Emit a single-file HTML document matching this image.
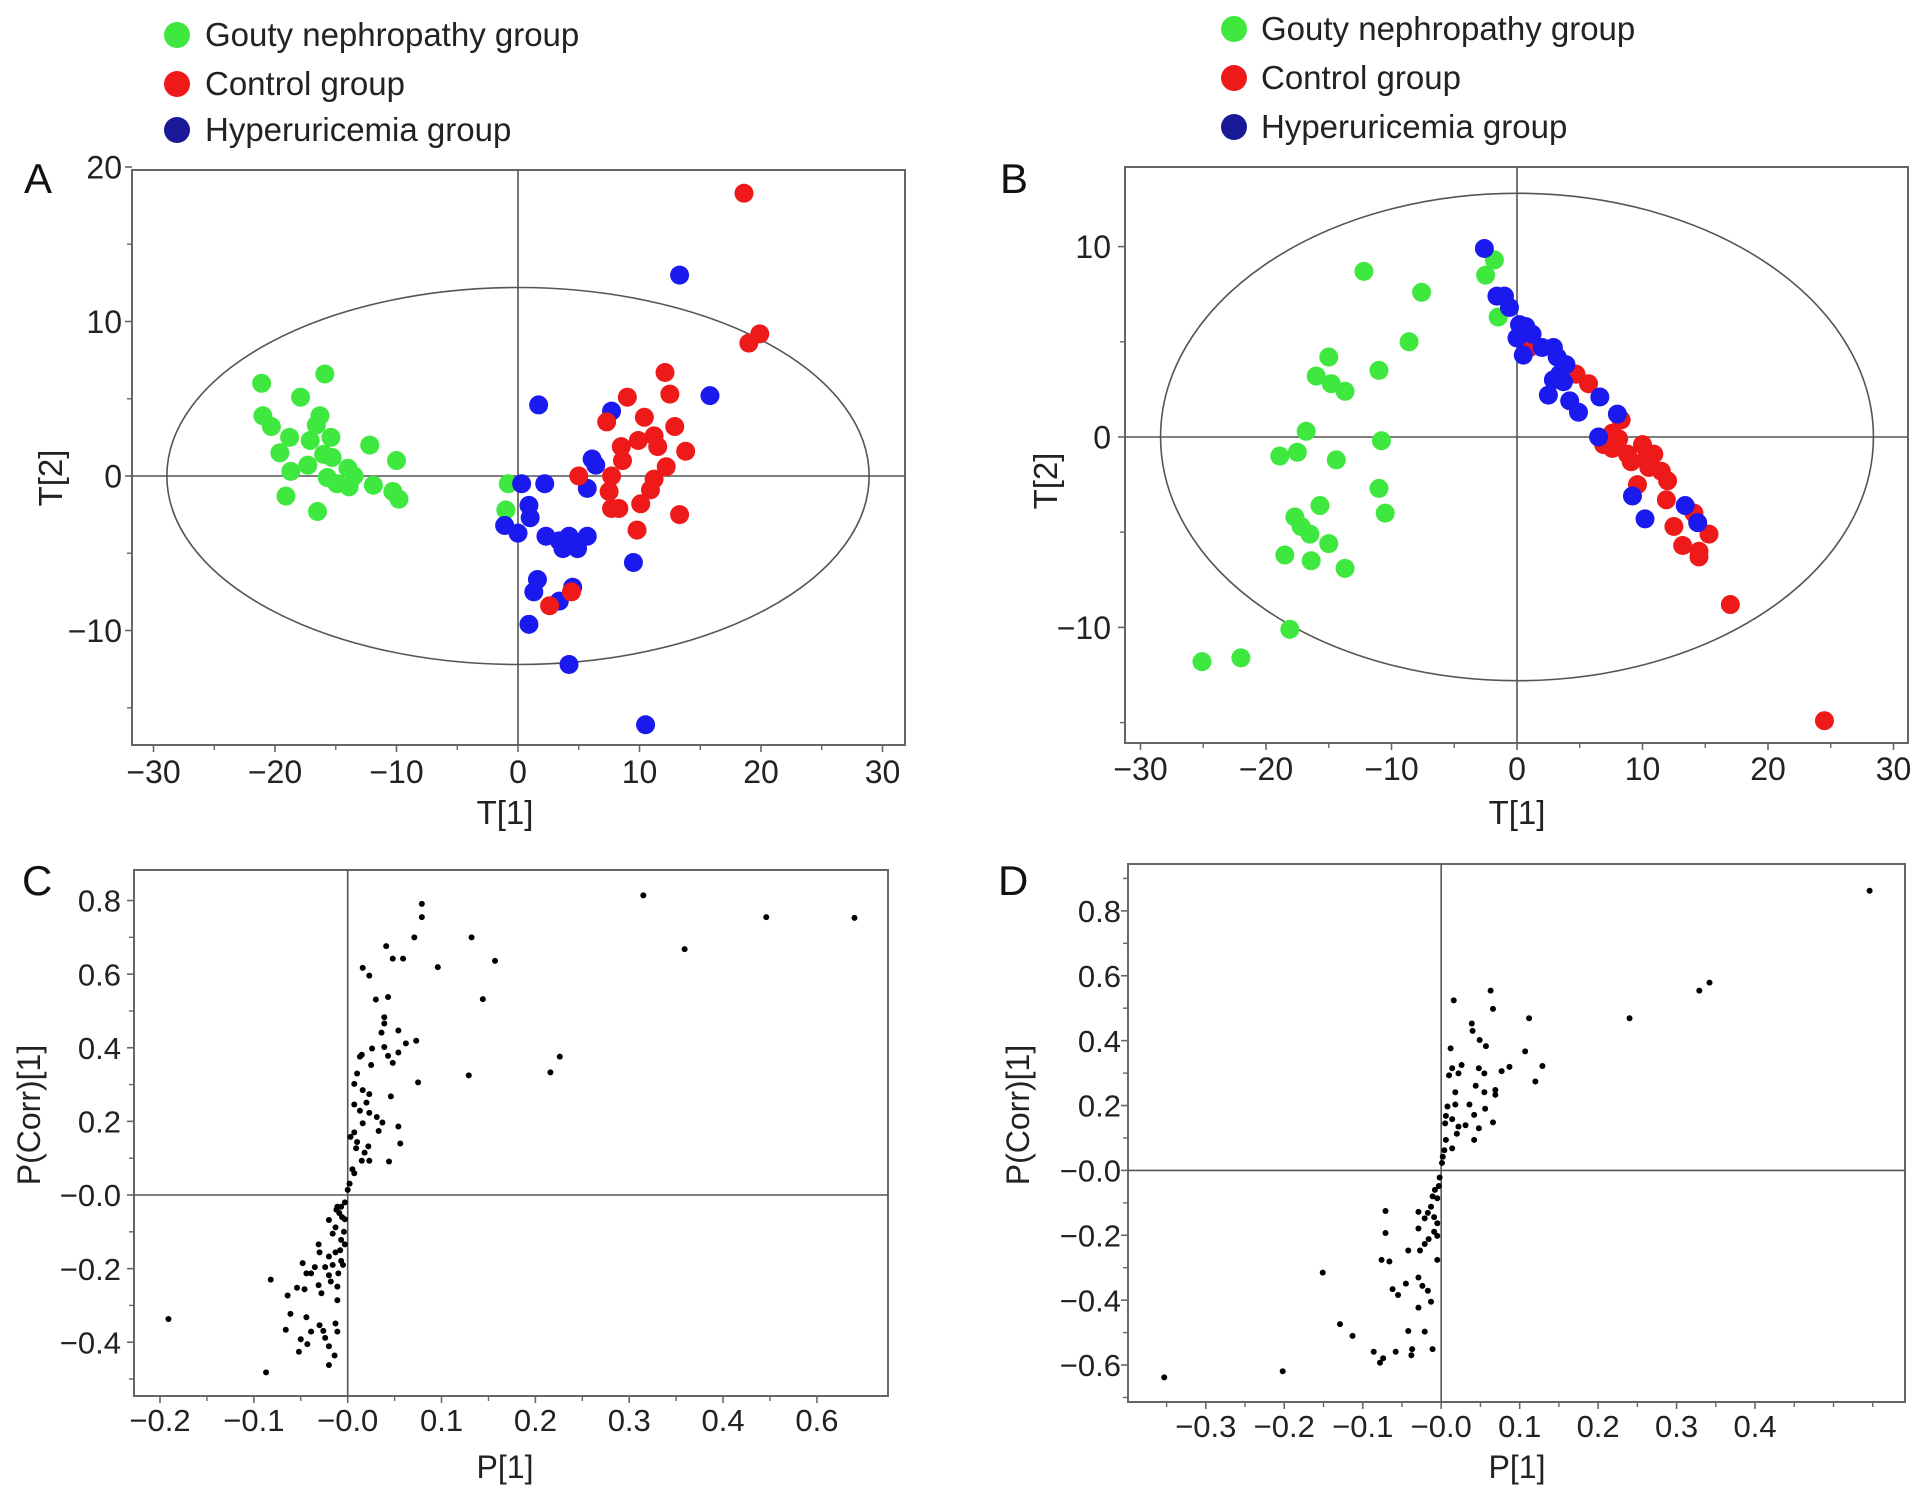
<!DOCTYPE html>
<html><head><meta charset="utf-8"><title>Multivariate score and loading plots</title>
<style>
html,body{margin:0;padding:0;background:#fff;}
svg{display:block;font-family:"Liberation Sans",Arial,sans-serif;}
</style></head>
<body>
<svg id="fig" width="1913" height="1491" viewBox="0 0 1913 1491" xmlns="http://www.w3.org/2000/svg">
<g id="legendA">
  <g><circle cx="177" cy="35" r="13" fill="#3ee83e"/><text x="205" y="46" font-size="33" fill="#222">Gouty nephropathy group</text></g>
  <g><circle cx="177" cy="84" r="13" fill="#ee1a1a"/><text x="205" y="95" font-size="33" fill="#222">Control group</text></g>
  <g><circle cx="177" cy="130" r="13" fill="#1a1a99"/><text x="205" y="141" font-size="33" fill="#222">Hyperuricemia group</text></g>
</g>
<g id="legendB">
  <g><circle cx="1234" cy="29" r="13" fill="#3ee83e"/><text x="1261" y="40" font-size="33" fill="#222">Gouty nephropathy group</text></g>
  <g><circle cx="1234" cy="78" r="13" fill="#ee1a1a"/><text x="1261" y="89" font-size="33" fill="#222">Control group</text></g>
  <g><circle cx="1234" cy="127" r="13" fill="#1a1a99"/><text x="1261" y="138" font-size="33" fill="#222">Hyperuricemia group</text></g>
</g>
<text x="24" y="193" font-size="42" fill="#111">A</text>
<text x="1000" y="193" font-size="42" fill="#111">B</text>
<text x="22" y="895" font-size="42" fill="#111">C</text>
<text x="998" y="895" font-size="42" fill="#111">D</text>
</svg>
<script>
// ---- Panel A data (T[1], T[2]) ----
const aGreenX = [-21.1,-21,-20.3,-17.9,-15.9,-18.8,-19.6,-18.7,-17.1,-16.6,-16.3,-17.3,-16,-15.4,-15.3,-15.7,-14.9,-14,-13.9,-13.5,-12.2,-11.9,-10,-10.3,-9.8,-19.1,-16.5,-0.8,-1];
const aGreenY = [6.0,3.9,3.2,5.1,6.6,2.5,1.5,0.3,2.3,3.3,3.9,0.7,1.4,2.5,1.2,-0.1,-0.5,0.5,-0.7,0,2,-0.6,1,-1,-1.5,-1.3,-2.3,-0.5,-2.2];
const aBlueX = [0.3,-1.1,0,0.9,1,1.7,2.2,2.3,3.4,4.2,3.7,4.9,5.7,5.7,6.1,6.4,7.7,9.5,1.6,1.3,4.5,3.4,0.9,4.2,13.3,15.8,10.5];
const aBlueY = [-0.5,-3.2,-3.7,-1.9,-2.7,4.6,-0.5,-3.9,-4.2,-3.9,-4.7,-4.7,-3.9,-0.8,1.1,0.7,4.2,-5.6,-6.7,-7.5,-7.2,-8.1,-9.6,-12.2,13,5.2,-16.1];
const aRedX = [18.6,19,19.9,12.1,12.5,9,7.3,10.4,8.5,9.9,11.2,11.5,12.9,13.8,8.6,12.2,5,7.7,11.2,7.5,10.9,7.7,8.3,10.1,13.3,9.8,2.6,4.4];
const aRedY = [18.3,8.6,9.2,6.7,5.3,5.1,3.5,3.8,1.9,2.3,2.6,1.9,3.2,1.6,1,0.6,0,0,-0.2,-1,-0.9,-2.1,-2.1,-1.8,-2.5,-3.5,-8.4,-7.5];
// ---- Panel B data ----
const bGreenX = [-1.8,-2.5,-1.5,-12.2,-7.6,-8.6,-11,-15,-16,-14.8,-13.7,-16.8,-10.8,-18.9,-17.5,-14.4,-11,-10.5,-15.7,-17.7,-17.2,-16.5,-15,-18.5,-16.4,-13.7,-18.1,-22,-25.1];
const bGreenY = [9.3,8.5,6.3,8.7,7.6,5,3.5,4.2,3.2,2.8,2.4,0.3,-0.2,-1,-0.8,-1.2,-2.7,-4,-3.6,-4.2,-4.7,-5.1,-5.6,-6.2,-6.5,-6.9,-10.1,-11.6,-11.8];
const bRedX = [4.7,5.7,1,8.3,7.6,8.1,6.9,7.6,8.8,10,9.1,10.3,10.9,10.5,11.5,12,9.6,11.9,14.1,12.5,15.3,13.2,14.5,14.5,17,24.5];
const bRedY = [3.3,2.8,4.7,0.9,0.2,-0.1,-0.4,-0.6,-0.9,-0.4,-1.3,-1.1,-0.9,-1.6,-1.8,-2.3,-2.5,-3.3,-4,-4.7,-5.1,-5.7,-6,-6.3,-8.8,-14.9];
const bBlueX = [-2.6,-1.6,-1,-0.6,0.2,0.7,0,1.2,0.5,2,2.9,3.2,3.9,3.4,2.9,3.7,2.5,4.2,4.9,6.6,8,6.5,9.2,10.2,13.4,14.4];
const bBlueY = [9.9,7.4,7.4,6.8,5.9,5.8,5.2,5.4,4.3,4.7,4.7,4.2,3.8,3.3,3,2.9,2.2,1.9,1.3,2.1,1.2,0,-3.1,-4.3,-3.6,-4.5];
// ---- Panel C data (P[1], P(Corr)[1]) ----
const cX = [0.315,0.446,0.54,0.359,0.079,0.079,0.071,0.132,0.041,0.048,0.059,0.096,0.157,0.016,0.023,0.03,0.043,0.144,0.039,0.039,0.036,0.054,0.039,0.026,0.015,0.013,0.043,0.048,0.054,0.062,0.073,0.075,0.129,0.216,0.226,0.025,0.01,0.007,0.016,0.023,0.007,0.02,0.013,0.023,0.016,0.031,0.037,0.046,0.054,0.033,0.056,0.044,0.007,0.003,0.018,0.015,0.009,0.005,0.007,0.002,0,0.01,0.022,0.023,
 -0.003,-0.007,-0.009,-0.011,-0.003,-0.02,-0.013,-0.016,-0.007,-0.003,-0.013,-0.031,-0.03,-0.02,-0.016,-0.007,-0.005,-0.01,-0.02,-0.018,-0.024,-0.035,-0.044,-0.048,-0.039,-0.082,-0.054,-0.046,-0.031,-0.028,-0.011,-0.064,-0.011,-0.061,-0.044,-0.066,-0.039,-0.03,-0.026,-0.024,-0.013,-0.011,-0.05,-0.043,-0.052,-0.02,-0.014,-0.02,-0.087,-0.191,-0.004,-0.006,-0.012,-0.008];
const cY = [0.814,0.755,0.753,0.668,0.791,0.755,0.70,0.70,0.676,0.642,0.642,0.619,0.636,0.617,0.596,0.531,0.538,0.532,0.483,0.466,0.441,0.447,0.402,0.398,0.381,0.376,0.378,0.359,0.387,0.412,0.419,0.306,0.325,0.333,0.376,0.353,0.330,0.302,0.285,0.274,0.246,0.251,0.229,0.223,0.195,0.212,0.197,0.268,0.186,0.174,0.14,0.091,0.17,0.158,0.115,0.093,0.127,0.07,0.059,0.031,0.014,0.144,0.132,0.093,
 -0.02,-0.032,-0.049,-0.032,-0.066,-0.068,-0.088,-0.105,-0.122,-0.134,-0.156,-0.134,-0.156,-0.167,-0.19,-0.179,-0.19,-0.213,-0.218,-0.235,-0.196,-0.196,-0.213,-0.185,-0.213,-0.23,-0.252,-0.256,-0.245,-0.267,-0.249,-0.273,-0.286,-0.323,-0.332,-0.366,-0.371,-0.354,-0.369,-0.388,-0.349,-0.371,-0.392,-0.405,-0.426,-0.411,-0.436,-0.462,-0.482,-0.337,-0.1,-0.06,-0.04,-0.15];
// ---- Panel D data ----
const dX = [0.546,0.342,0.329,0.24,0.112,0.063,0.066,0.016,0.039,0.04,0.049,0.057,0.107,0.012,0.129,0.087,0.077,0.12,0.048,0.055,0.026,0.014,0.01,0.022,0.044,0.018,0.055,0.069,0.069,0.008,0.018,0.036,0.056,0.006,0.014,0.042,0.066,0.005,0.022,0.031,0.048,0.02,0.042,0.014,0.006,0.004,0.002,0.001,
 -0.002,-0.003,-0.008,-0.011,-0.005,-0.013,-0.029,-0.017,-0.009,-0.021,-0.005,-0.029,-0.009,-0.016,-0.005,-0.021,-0.027,-0.042,-0.071,-0.071,-0.076,-0.066,-0.005,-0.029,-0.045,-0.062,-0.055,-0.024,-0.017,-0.013,-0.029,-0.151,-0.129,-0.113,-0.042,-0.021,-0.086,-0.058,-0.037,-0.038,-0.011,-0.074,-0.078,-0.202,-0.353];
const dY = [0.862,0.579,0.554,0.469,0.469,0.554,0.498,0.524,0.453,0.43,0.402,0.383,0.367,0.376,0.322,0.319,0.306,0.274,0.315,0.299,0.325,0.315,0.293,0.299,0.261,0.241,0.241,0.248,0.233,0.197,0.203,0.203,0.19,0.168,0.158,0.171,0.148,0.145,0.135,0.139,0.13,0.113,0.094,0.068,0.094,0.062,0.042,0.023,
 -0.022,-0.048,-0.06,-0.08,-0.086,-0.112,-0.128,-0.131,-0.144,-0.148,-0.163,-0.179,-0.189,-0.212,-0.202,-0.227,-0.247,-0.247,-0.125,-0.193,-0.276,-0.281,-0.276,-0.33,-0.349,-0.366,-0.384,-0.356,-0.371,-0.405,-0.423,-0.315,-0.474,-0.51,-0.495,-0.497,-0.559,-0.559,-0.551,-0.57,-0.551,-0.579,-0.593,-0.619,-0.638];
// ---- Tick values / labels ----
const abXTicks = [-30,-20,-10,0,10,20,30];
const abXTickLabels = ["\u221230","\u221220","\u221210","0","10","20","30"];
const aYTicks = [-10,0,10,20];
const aYTickLabels = ["\u221210","0","10","20"];
const bYTicks = [-10,0,10];
const bYTickLabels = ["\u221210","0","10"];
const cXTicks = [-0.2,-0.1,0,0.1,0.2,0.3,0.4,0.5];
const cXTickLabels = ["\u22120.2","\u22120.1","\u22120.0","0.1","0.2","0.3","0.4","0.6"];
const cYTicks = [0.8,0.6,0.4,0.2,0,-0.2,-0.4];
const cYTickLabels = ["0.8","0.6","0.4","0.2","\u22120.0","\u22120.2","\u22120.4"];
const dXTicks = [-0.3,-0.2,-0.1,0,0.1,0.2,0.3,0.4];
const dXTickLabels = ["\u22120.3","\u22120.2","\u22120.1","\u22120.0","0.1","0.2","0.3","0.4"];
const dYTicks = [0.8,0.6,0.4,0.2,0,-0.2,-0.4,-0.6];
const dYTickLabels = ["0.8","0.6","0.4","0.2","\u22120.0","\u22120.2","\u22120.4","\u22120.6"];

const NS = "http://www.w3.org/2000/svg";
const svg = document.getElementById('fig');
function mk(tag, attrs, parent){ const e=document.createElementNS(NS,tag); for(const k in attrs) e.setAttribute(k,attrs[k]); (parent||svg).appendChild(e); return e; }

function panel(p){
  const g = mk('g',{});
  
  
  const sx = v => p.x0 + v*p.kx;
  const sy = v => p.y0 - v*p.ky;
  const fr = mk('rect',{x:p.L,y:p.T,width:p.R-p.L,height:p.B-p.T,fill:'none',stroke:'#666','stroke-width':2},g);
  
  
  const vx = mk('line',{x1:sx(0),x2:sx(0),y1:p.T,y2:p.B,stroke:'#555','stroke-width':1.6},g);
  
  
  const hz = mk('line',{x1:p.L,x2:p.R,y1:sy(0),y2:sy(0),stroke:'#555','stroke-width':1.6},g);
  
  
  if(p.ell){
    const el = mk('ellipse',{cx:sx(0),cy:sy(0),rx:p.ell[0]*p.kx,ry:p.ell[1]*p.ky,fill:'none',stroke:'#555','stroke-width':1.6},g);
    
    
  }
  p.xt.forEach((v,i)=>{
    mk('line',{x1:sx(v),x2:sx(v),y1:p.B,y2:p.B+7,stroke:'#666','stroke-width':1.6},g);
    const t = mk('text',{x:sx(v),y:p.xly,'font-size':p.fs,'text-anchor':'middle',fill:'#222'},g);
    t.textContent = p.xl[i];
    
    
  });
  p.xm.forEach(v=>{ mk('line',{x1:sx(v),x2:sx(v),y1:p.B,y2:p.B+5,stroke:'#666','stroke-width':1.4},g); });
  p.yt.forEach((v,i)=>{
    mk('line',{x1:p.L-7,x2:p.L,y1:sy(v),y2:sy(v),stroke:'#666','stroke-width':1.6},g);
    const t = mk('text',{x:p.ylx,y:sy(v)+p.fs*0.36,'font-size':p.fs,'text-anchor':'end',fill:'#222'},g);
    t.textContent = p.yl[i];
    
    
  });
  p.ym.forEach(v=>{ mk('line',{x1:p.L-5,x2:p.L,y1:sy(v),y2:sy(v),stroke:'#666','stroke-width':1.4},g); });
  const xtl = mk('text',{x:p.xtx,y:p.xty,'font-size':p.fs+1,'text-anchor':'middle',fill:'#222'},g);
  xtl.textContent = p.xtitle;
  
  
  const ytl = mk('text',{x:0,y:0,'font-size':p.fs+1,'text-anchor':'middle',fill:'#222',transform:`translate(${p.ytx},${p.yty}) rotate(-90)`},g);
  ytl.textContent = p.ytitle;
  
  
  p.series.forEach(s=>{
    const sg = mk('g',{},g);
    
    
    s.x.forEach((v,i)=>{
      const c = mk('circle',{cx:sx(v),cy:sy(s.y[i]),r:s.r,fill:s.c},sg);
      
      
    });
  });
}
const GREEN='#3ee83e', RED='#ee1a1a', BLUE='#1a1aee';
panel({id:'a',L:132,R:905,T:170,B:745,x0:518,kx:12.15,y0:476,ky:15.45,ell:[28.9,12.2],
  xt:abXTicks,xl:abXTickLabels,xm:[-25,-15,-5,5,15,25],yt:aYTicks,yl:aYTickLabels,ym:[-15,-5,5,15],
  fs:32,xly:783,ylx:122,xtx:505,xty:824,ytx:62,yty:478,xtitle:'T[1]',ytitle:'T[2]',
  series:[{name:'gouty',x:aGreenX,y:aGreenY,c:GREEN,r:9.5},{name:'hyperuricemia',x:aBlueX,y:aBlueY,c:BLUE,r:9.5},{name:'control',x:aRedX,y:aRedY,c:RED,r:9.5}]});
panel({id:'b',L:1125,R:1908,T:167,B:743,x0:1517,kx:12.55,y0:437,ky:19.04,ell:[28.4,12.8],
  xt:abXTicks,xl:abXTickLabels,xm:[-25,-15,-5,5,15,25],yt:bYTicks,yl:bYTickLabels,ym:[-15,-5,5],
  fs:32,xly:780,ylx:1111,xtx:1517,xty:824,ytx:1057,yty:481,xtitle:'T[1]',ytitle:'T[2]',
  series:[{name:'gouty',x:bGreenX,y:bGreenY,c:GREEN,r:9.5},{name:'control',x:bRedX,y:bRedY,c:RED,r:9.5},{name:'hyperuricemia',x:bBlueX,y:bBlueY,c:BLUE,r:9.5}]});
panel({id:'c',L:134,R:888,T:870,B:1396,x0:347.7,kx:938.5,y0:1195,ky:368.1,ell:null,
  xt:cXTicks,xl:cXTickLabels,xm:[-0.15,-0.05,0.05,0.15,0.25,0.35,0.45],yt:cYTicks,yl:cYTickLabels,ym:[0.7,0.5,0.3,0.1,-0.1,-0.3,-0.5],
  fs:31,xly:1431,ylx:121,xtx:505,xty:1478,ytx:40,yty:1115,xtitle:'P[1]',ytitle:'P(Corr)[1]',
  series:[{name:'loadings',x:cX,y:cY,c:'#000',r:3}]});
panel({id:'d',L:1128,R:1905,T:864,B:1402,x0:1441.2,kx:784.6,y0:1170.4,ky:324.4,ell:null,
  xt:dXTicks,xl:dXTickLabels,xm:[-0.35,-0.25,-0.15,-0.05,0.05,0.15,0.25,0.35,0.45,0.5,0.55],yt:dYTicks,yl:dYTickLabels,ym:[0.9,0.7,0.5,0.3,0.1,-0.1,-0.3,-0.5,-0.7],
  fs:31,xly:1437,ylx:1121,xtx:1517,xty:1478,ytx:1029,yty:1115,xtitle:'P[1]',ytitle:'P(Corr)[1]',
  series:[{name:'loadings',x:dX,y:dY,c:'#000',r:3}]});
</script>
</body></html>
